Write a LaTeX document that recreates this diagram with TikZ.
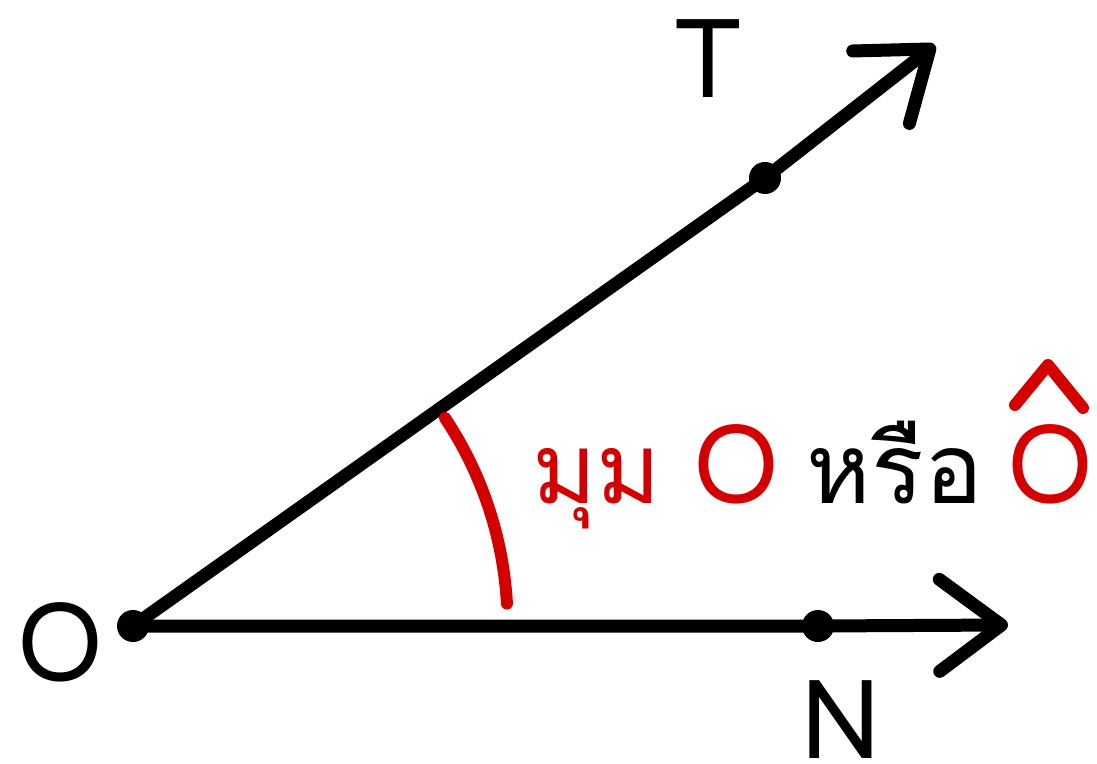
\documentclass[tikz,border=0pt]{standalone}
\usepackage{fontspec}
\setmainfont{Loma}
\newfontfamily\thaifont[Script=Thai]{Loma}
\usetikzlibrary{arrows.meta, positioning}
\definecolor{angred}{RGB}{212,0,0}

\begin{document}
\begin{tikzpicture}[
    x=0.5pt, y=-0.5pt,
    font=\fontsize{55}{60}\selectfont,
    every node/.style={inner sep=0pt},
    ray/.style={line width=6.5pt, line cap=round, -{Straight Barb[length=31pt, width=46pt, round]}},
    dot/.style={circle, fill, minimum size=16pt},
    anglemark/.style={line width=6pt, line cap=round, angred},
    thaiword/.style={anchor=base, font=\fontsize{49}{56}\selectfont\thaifont},
]
\useasboundingbox (0,0) rectangle (1097,764);

% --- Points
\node[dot] (O) at (133,626) {};
\node[dot] (T) at (765,178) {};
\node[dot] (N) at (818,626) {};
\coordinate (Tend) at (935,45);
\coordinate (Nend) at (1008,625);

% --- Rays
\draw[ray] (O.center) -- (T.center) -- (Tend);
\draw[ray] (O.center) -- (N.center) -- (Nend);

% --- Labels
\node (Olabel) at (60,642)  {O};
\node (Tlabel) at (708,59)  {T};
\node (Nlabel) at (841,720) {N};

% --- Angle mark
\draw[anglemark] (445,418) arc[start angle=-33.7, end angle=-3.2, radius=372];

\node[thaiword, text=angred] (mum)  at (597,503) {มุม};
\node[anchor=base, text=angred] (Oname) at (736,503) {O};
\node[thaiword] (rue) at (895,503) {หรือ};
\node[anchor=base, text=angred] (Ohat) at (1050,503) {O};
\draw[anglemark, line join=round] ([shift={(-35,-98)}]Ohat.base) -- ++(33,-40) -- ++(35,43);

\end{tikzpicture}
\end{document}
